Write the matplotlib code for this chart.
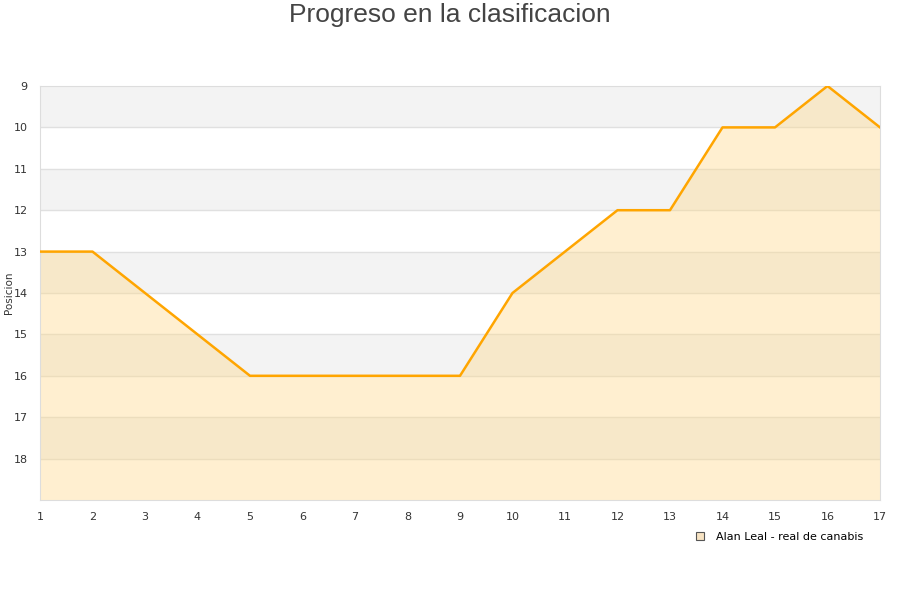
import matplotlib
matplotlib.use('Agg')
from matplotlib import pyplot as plt
from matplotlib.lines import Line2D

# Datos de la clasificacion
jornadas = list(range(1, 18))
posicion = [13, 13, 14, 15, 16, 16, 16, 16, 16, 14, 13, 12, 12, 10, 10, 9, 10]
y_ticks = list(range(9, 19))
serie = 'Alan Leal - real de canabis'

fig = plt.figure(figsize=(9, 6), dpi=100)
ax = fig.add_axes([40 / 900, 1 - 500 / 600, 840 / 900, 414 / 600])

# Bandas alternas del fondo
for y0 in range(9, 19, 2):
    ax.axhspan(y0, y0 + 1, color='#f3f3f3', zorder=0, lw=0)
for y in y_ticks[1:]:
    ax.axhline(y, color='#e0e0e0', lw=1, zorder=1)

ax.fill_between(jornadas, posicion, 19, color='#ffd98a', alpha=0.4, lw=0, zorder=2)
ax.plot(jornadas, posicion, color='#ffa500', lw=1.8, zorder=3)

ax.set_xlim(1, 17)
ax.set_ylim(19, 9)
ax.set_xticks(jornadas)
ax.set_yticks(y_ticks)
ax.tick_params(length=0, labelsize=8, colors='#333333', pad=9)
ax.tick_params(axis='y', pad=9)
for s in ax.spines.values():
    s.set_color('#dddddd')
fig.text(9 / 900, 1 - 293 / 600, 'Posicion', rotation=90, ha='center', va='center',
         fontsize=7.5, color='#333333')

fig.text(0.5, 0.995, 'Progreso en la clasificacion', ha='center', va='top',
         fontsize=19, color='#444444', family='Liberation Sans')

handle = Line2D([], [], marker='s', ls='', markersize=6, markerfacecolor='#f7e3c3',
                markeredgecolor='#555555', markeredgewidth=0.8)
fig.legend([handle], [serie], loc='center right', bbox_to_anchor=(0.97, 1 - 537 / 600),
           frameon=False, fontsize=8, handletextpad=0.4)

fig.savefig('out.png', dpi=100)
